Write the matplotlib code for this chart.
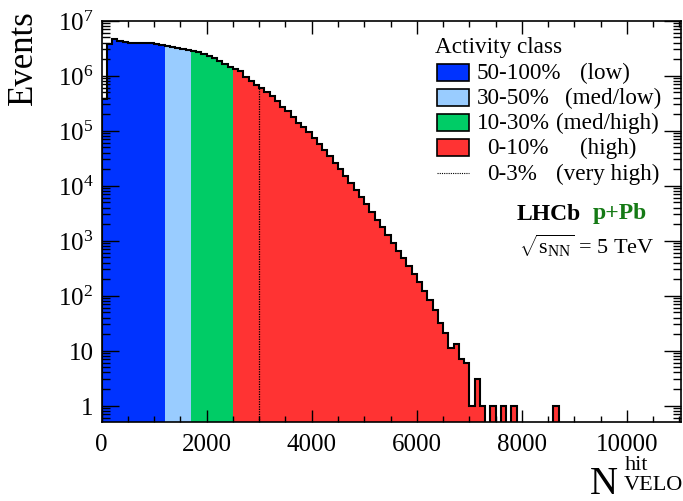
import numpy as np
import matplotlib
matplotlib.use('Agg')
import matplotlib.pyplot as plt
from matplotlib.patches import Rectangle
from matplotlib.lines import Line2D
from matplotlib.ticker import FixedLocator, MultipleLocator, LogLocator, NullFormatter

plt.rcParams['font.family'] = ['Liberation Serif', 'DejaVu Serif']
plt.rcParams['mathtext.fontset'] = 'custom'
plt.rcParams['mathtext.rm'] = 'Liberation Serif'
plt.rcParams['mathtext.it'] = 'Liberation Serif:italic'
plt.rcParams['mathtext.bf'] = 'Liberation Serif:bold'

# N_VELO^hit histogram, 100-wide bins from 0 to 8700
bin_width = 100
events = [
    3.7e5, 3.8e6, 4.6e6, 4.2e6, 4.05e6, 3.95e6, 3.9e6, 3.9e6, 3.85e6, 3.85e6,
    3.8e6, 3.65e6, 3.5e6, 3.37e6, 3.23e6, 3.05e6, 2.95e6, 2.85e6, 2.73e6, 2.48e6,
    2.25e6, 2.07e6, 1.87e6, 1.65e6, 1.45e6, 1.32e6, 1.2e6, 9.5e5, 8.1e5, 6.9e5,
    5.9e5, 5.0e5, 4.2e5, 3.4e5, 2.75e5, 2.24e5, 1.74e5, 1.38e5, 1.15e5, 9.3e4,
    7.4e4, 5.8e4, 4.5e4, 3.5e4, 2.6e4, 2.0e4, 1.5e4, 1.12e4, 8300, 6200,
    4600, 3300, 2400, 1740, 1260, 910, 660, 480, 340, 245,
    174, 123, 85, 54, 32, 21, 11, 13, 7, 6,
    1, 3, 1, 0, 1, 0, 1, 0, 1, 0,
    0, 0, 0, 0, 0, 0, 1,
]

# activity classes
class_edges = [0, 1200, 1700, 2500, 8700]
class_colors = ['#0033ff', '#99ccff', '#00cc66', '#ff3333']
class_pct = ['50-100%', '30-50%', '10-30%', '0-10%', '0-3%']
class_names = ['(low)', '(med/low)', '(med/high)', '(high)', '(very high)']
very_high_cut = 3000

events = np.array(events, dtype=float)
edges = np.arange(len(events) + 1) * bin_width
ymin, ymax = 0.51, 1e7
floor = 1e-3

fig = plt.figure(figsize=(6.83, 5.02), dpi=100)
ax = fig.add_axes([0.1489, 0.158, 0.848, 0.7988])

for lo, hi, col in zip(class_edges[:-1], class_edges[1:], class_colors):
    i0, i1 = lo // bin_width, hi // bin_width
    vals = np.where(events[i0:i1] > 0, events[i0:i1], floor)
    ax.stairs(vals, edges[i0:i1 + 1], baseline=floor, fill=True,
              color=col, linewidth=0)

outline = np.where(events > 0, events, floor)
ax.stairs(outline, edges, baseline=floor, color='black', linewidth=1.5)

iv = very_high_cut // bin_width
ax.plot([very_high_cut, very_high_cut], [ymin, events[iv]], color='black',
        linestyle=(0, (1, 1)), linewidth=0.9)

ax.set_yscale('log')
ax.set_xlim(0, 11030)
ax.set_ylim(ymin, ymax)

ax.xaxis.set_major_locator(FixedLocator([0, 2000, 4000, 6000, 8000, 10000]))
ax.xaxis.set_minor_locator(MultipleLocator(500))
ax.set_xticklabels(['0', '2000', '4000', '6000', '8000', '10000'])
ax.yaxis.set_major_locator(FixedLocator([1, 10, 1e2, 1e3, 1e4, 1e5, 1e6, 1e7]))
ax.yaxis.set_minor_locator(LogLocator(base=10, subs=np.arange(2, 10)))
ax.yaxis.set_minor_formatter(NullFormatter())
ax.set_yticklabels(['1', '10', r'$10^{2}$', r'$10^{3}$', r'$10^{4}$',
                    r'$10^{5}$', r'$10^{6}$', r'$10^{7}$'])

ax.tick_params(axis='both', which='both', direction='in', top=True, right=True,
               labelsize=18, width=1.0, color='black')
ax.xaxis.set_tick_params(which='major', length=9, pad=8)
ax.xaxis.set_tick_params(which='minor', length=4.5)
ax.yaxis.set_tick_params(which='major', length=12, pad=6)
ax.yaxis.set_tick_params(which='minor', length=6)
for s in ax.spines.values():
    s.set_linewidth(1.2)

fig.text(0.035, 0.885, 'Events', rotation=90, fontsize=25, ha='center', va='center')
# axis title N^hit_VELO
fig.text(590 / 683, 1 - 494 / 502, 'N', fontsize=28, ha='left', va='baseline')
fig.text(625 / 683, 1 - 466 / 502, 'hit', fontsize=16, ha='left', va='center')
fig.text(624 / 683, 1 - 486 / 502, 'VELO', fontsize=16, ha='left', va='center')

# legend
fs = 16.7
fig.text(435 / 683, 1 - 48 / 502, 'Activity class', fontsize=fs, ha='left', va='center')
rows_y = [73.7, 98.7, 123.5, 148.7, 174]
pct_x = [476.7, 476.7, 476.7, 487.3, 487.3]
name_x = [580, 565, 555.7, 580, 555.7]
for k in range(5):
    yc = 1 - rows_y[k] / 502
    if k < 4:
        fig.patches.append(Rectangle((437 / 683, yc - 8.5 / 502), 32 / 683, 17 / 502,
                                     transform=fig.transFigure, facecolor=class_colors[k],
                                     edgecolor='black', linewidth=1.2))
    else:
        fig.lines.append(Line2D([437 / 683, 469 / 683], [yc, yc], transform=fig.transFigure,
                                color='black', linestyle=(0, (1, 1)), linewidth=0.8))
    fig.text(pct_x[k] / 683, yc, class_pct[k], fontsize=fs, ha='left', va='center')
    fig.text(name_x[k] / 683, yc, class_names[k], fontsize=fs, ha='left', va='center')

fig.text(517 / 683, 1 - 214 / 502, 'LHCb', fontsize=17, fontweight='bold',
         ha='left', va='center')
fig.text(593 / 683, 1 - 214 / 502, 'p+Pb', fontsize=17, fontweight='bold',
         color='#157a15', ha='left', va='center')
fig.text(519 / 683, 1 - 246 / 502,
         r'$\sqrt{\mathregular{s}_{\mathregular{NN}}}$ = 5 TeV', fontsize=16,
         ha='left', va='center')

fig.savefig('out.png', dpi=100)
